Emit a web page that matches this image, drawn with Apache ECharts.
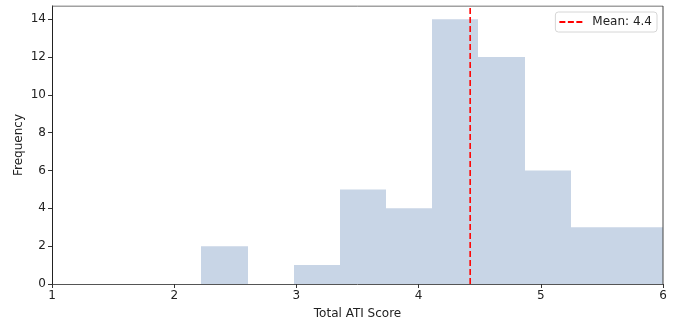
<!DOCTYPE html>
<html><head><meta charset="utf-8">
<script src="https://cdn.jsdelivr.net/npm/echarts@6/dist/echarts.min.js"></script>
<style>html,body{margin:0;padding:0;background:#fff}#c{width:678px;height:322px}</style>
</head><body><div id="c"></div>
<script>
// Histogram bin edges (Total ATI Score)
const binEdges = [2.222, 2.600, 2.978, 3.356, 3.733, 4.111, 4.489, 4.867, 5.244, 5.622, 6.000];
// Frequencies per bin
const counts = [2, 0, 1, 5, 4, 14, 12, 6, 3, 3];
const meanValue = 4.422;
const meanLabel = 'Mean: 4.4';
const xTicks = [1, 2, 3, 4, 5, 6];
const yTicks = [0, 2, 4, 6, 8, 10, 12, 14];

const bars = counts.map((c, i) => [binEdges[i], binEdges[i + 1], c]);
const font = 'DejaVu Sans';
const chart = echarts.init(document.getElementById('c'), null, {renderer: 'canvas'});
chart.setOption({
  animation: false,
  grid: {left: 52, right: 15, top: 6, bottom: 38, containLabel: false, outerBoundsMode: 'none'},
  legend: {
    top: 12, right: 21,
    data: [{name: meanLabel, icon: 'path://M0 4h6v2H0z M8.5 4h6v2h-6z M17 4h6v2h-6z'}],
    itemWidth: 23, itemHeight: 2.5,
    itemGap: 5,
    padding: [4, 5, 4, 4],
    borderColor: '#d6d6d6', borderWidth: 1, borderRadius: 3,
    textStyle: {fontFamily: font, fontSize: 12, color: '#222', padding: [0, 0, 0, 5]}
  },
  xAxis: {
    type: 'value', min: 1, max: 6, interval: 1,
    name: 'Total ATI Score', nameLocation: 'middle', nameGap: 24, nameMoveOverlap: false,
    nameTextStyle: {fontFamily: font, fontSize: 12, color: '#222'},
    axisLine: {show: true, onZero: false, lineStyle: {color: '#555', width: 1}},
    axisTick: {show: true, length: 4, lineStyle: {color: '#333'}},
    axisLabel: {fontFamily: font, fontSize: 12, color: '#222', margin: 6},
    splitLine: {show: false}
  },
  yAxis: {
    type: 'value', min: 0, max: 14.7, interval: 2,
    name: 'Frequency', nameLocation: 'middle', nameGap: 27, nameMoveOverlap: false,
    nameTextStyle: {fontFamily: font, fontSize: 12, color: '#222'},
    axisLine: {show: true, lineStyle: {color: '#222', width: 1}},
    axisTick: {show: true, length: 4, lineStyle: {color: '#333'}},
    axisLabel: {fontFamily: font, fontSize: 12, color: '#222', margin: 6,
      showMaxLabel: false,
      formatter: v => yTicks.includes(v) ? String(v) : ''},
    splitLine: {show: false}
  },
  series: [
    {
      type: 'custom',
      name: 'hist',
      data: bars,
      renderItem: function (params, api) {
        const x0 = api.value(0), x1 = api.value(1), h = api.value(2);
        if (h <= 0) return null;
        const p0 = api.coord([x0, 0]);
        const p1 = api.coord([x1, h]);
        const left = Math.round(p0[0]), right = Math.round(p1[0]);
        return {
          type: 'rect',
          shape: {x: left, y: p1[1], width: right - left, height: p0[1] - p1[1]},
          style: {fill: '#c8d5e6'}
        };
      },
      z: 1
    },
    {
      type: 'line',
      name: meanLabel,
      data: [[meanValue, 0], [meanValue, 14.7]],
      symbol: 'none',
      lineStyle: {color: '#ff0000', width: 1.6, type: [6, 3]},
      itemStyle: {color: '#ff0000'},
      z: 3
    },
    {
      // frame: top and right spines
      type: 'line',
      data: [[1, 14.7], [6, 14.7], [6, 0]],
      symbol: 'none',
      lineStyle: {color: '#444', width: 1},
      silent: true,
      z: 4
    }
  ]
});
</script></body></html>
